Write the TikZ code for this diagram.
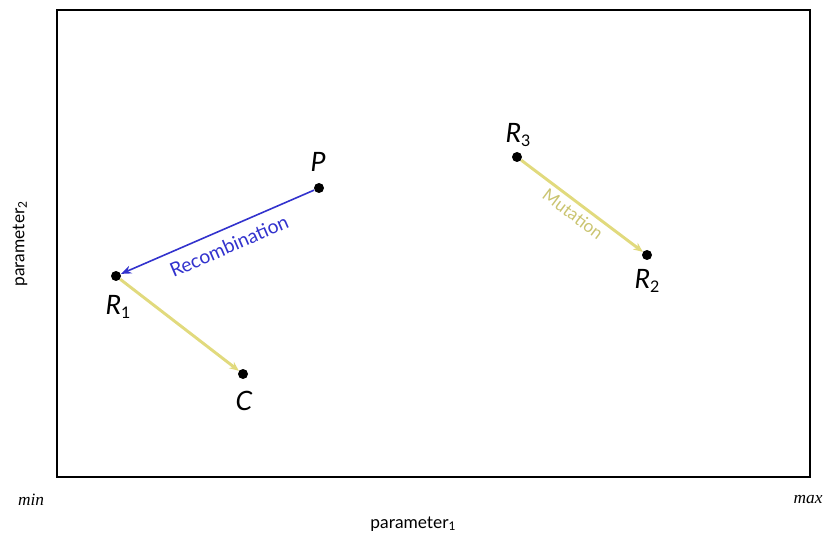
\documentclass[tikz,border=0pt]{standalone}
\usepackage{fontspec}
\setmainfont{Lato}
\newfontfamily\serifit{Liberation Serif}
\usetikzlibrary{arrows.meta}
\definecolor{recblue}{RGB}{50,50,205}
\definecolor{mutyellow}{RGB}{225,218,125}
\newcommand{\sbs}[1]{\raisebox{-0.35ex}{\fontsize{12}{12}\selectfont\upshape #1}}
\begin{document}
\begin{tikzpicture}[x=0.75pt,y=-0.75pt,
  pt/.style={circle,fill=black,inner sep=0pt,minimum size=7.5pt},
  lab/.style={font=\fontsize{20}{20}\selectfont\itshape},
  recarrow/.style={draw=recblue,line width=1.2pt,-{Stealth[length=8pt,width=6pt]}},
  mutline/.style={draw=mutyellow,line width=2.2pt,-{Stealth[length=7pt,width=6pt]}},
  axis/.style={font=\fontsize{13}{13}\selectfont}]
\useasboundingbox (0,0) rectangle (827,541);
\draw[line width=2.2pt] (57,10) rectangle (810,477);
\node[pt] (P) at (319,188) {};
\node[pt] (R1) at (116,276) {};
\node[pt] (C) at (243,374) {};
\node[pt] (R3) at (517,157) {};
\node[pt] (R2) at (647,255) {};
\node[lab] (lP) at (318,162) {P};
\node[lab] (lR1) at (118,307) {R\sbs{1}};
\node[lab] (lC) at (244,401) {C};
\node[lab] (lR3) at (518,135) {R\sbs{3}};
\node[lab] (lR2) at (647,281) {R\sbs{2}};
\draw[recarrow] (P) -- (R1);
\draw[mutline] (R1) -- (C);
\draw[mutline] (R3) -- (R2);
\node[text=recblue,font=\fontsize{14.5}{14.5}\selectfont,rotate=23.4] (rec) at (229,246) {Recombination};
\node[text=mutyellow!90!black,font=\fontsize{13}{13}\selectfont,rotate=-37] (mut) at (573,214) {Mutation};
\node[font=\fontsize{13}{13}\selectfont\serifit\itshape] (min) at (31,500) {min};
\node[font=\fontsize{13}{13}\selectfont\serifit\itshape,anchor=west] (max) at (789,500) {max};
\node[axis] (p1) at (413,524) {parameter\raisebox{-0.3ex}{\fontsize{9}{9}\selectfont 1}};
\node[axis,rotate=90] (p2) at (20,244) {parameter\raisebox{-0.3ex}{\fontsize{9}{9}\selectfont 2}};
\end{tikzpicture}
\end{document}
